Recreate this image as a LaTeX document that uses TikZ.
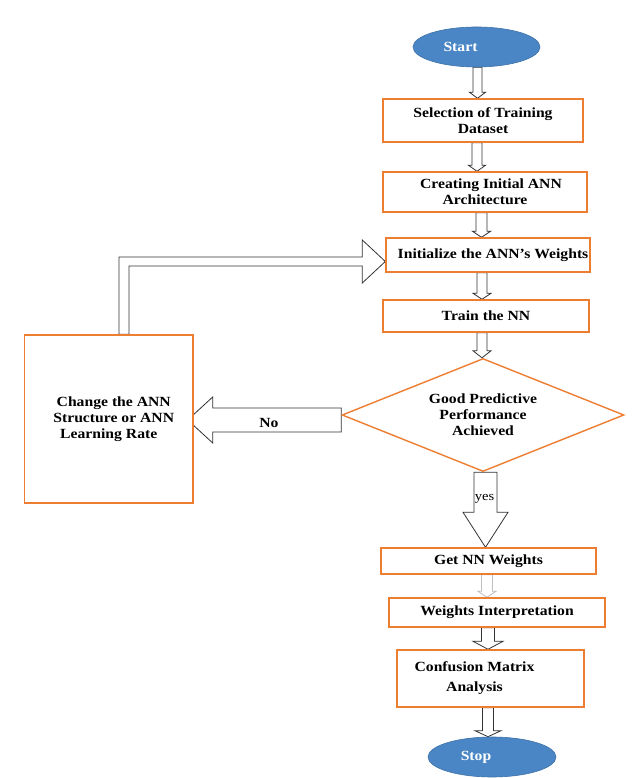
\documentclass[tikz,border=0pt]{standalone}
\usepackage{fontspec}
\setmainfont{Liberation Serif}[FakeStretch=1.12]
\usetikzlibrary{shapes.geometric,calc,backgrounds}
\definecolor{boxorange}{HTML}{ED7D31}
\definecolor{ellblue}{HTML}{4A86C5}
\newcommand\blockdown[7][]{%
  \draw[blockarrow,#1] let \p1=(#2), \p2=(#3) in
  (#4pt-#5pt,\y1) -- (#4pt-#5pt,\y2+#7pt) -- (#4pt-#6pt,\y2+#7pt) -- (#4pt,\y2)
  -- (#4pt+#6pt,\y2+#7pt) -- (#4pt+#5pt,\y2+#7pt) -- (#4pt+#5pt,\y1) -- cycle;}
\tikzset{
  box/.style={draw=boxorange, line width=1.4pt, fill=white, inner sep=0pt,
    align=center, font=\fontsize{14}{16}\selectfont\bfseries},
  term/.style={ellipse, fill=ellblue, draw=ellblue!85!black, line width=0.6pt,
    inner sep=0pt, text=white, font=\fontsize{14}{16}\selectfont\bfseries},
  dec/.style={diamond, aspect=2.5, draw=boxorange, line width=1.4pt, fill=white,
    inner sep=0pt, align=center, font=\fontsize{14}{16}\selectfont\bfseries},
  blockarrow/.style={draw=black!80, line width=0.8pt, fill=white, line join=miter},
  lightarrow/.style={draw=black!25},
  lbl/.style={inner sep=0pt, font=\fontsize{14}{16}\selectfont\bfseries},
}
\begin{document}
\begin{tikzpicture}[x=1pt,y=1pt]
\useasboundingbox (0,0) rectangle (640,778);
% nodes
\node[term, minimum width=127pt, minimum height=40pt] (start) at (476.5,731) {Start\hspace*{32pt}};
\node[box, minimum width=200pt, minimum height=43pt] (b1) at (483,657.5) {Selection of Training\\Dataset};
\node[box, minimum width=204pt, minimum height=40pt] (b2) at (485,586) {\hspace*{12pt}Creating Initial ANN\\Architecture};
\node[box, minimum width=204pt, minimum height=34pt] (b3) at (488,523) {\hspace*{10pt}Initialize the ANN’s Weights};
\node[box, minimum width=206pt, minimum height=32pt] (b4) at (486,462) {Train the NN};
\node[dec, minimum width=282pt, minimum height=113pt] (dia) at (483,363) {Good Predictive\\Performance\\Achieved};
\node[box, minimum width=168.5pt, minimum height=168pt] (lbox) at (108.75,359) {\hspace*{10pt}Change the ANN\\\hspace*{10pt}Structure or ANN\\Learning Rate};
\node[box, minimum width=215pt, minimum height=26pt] (get) at (488.5,217) {Get NN Weights};
\node[box, minimum width=216pt, minimum height=29pt] (wi) at (497,165.5) {Weights Interpretation};
\node[box, minimum width=187pt, minimum height=57pt] (cm) at (490.5,99.5) {\begin{tabular}{@{}c@{}}Confusion Matrix\\[4pt]Analysis\end{tabular}\hspace*{32pt}};
\node[term, minimum width=128pt, minimum height=40pt] (stop) at (492,21) {Stop\hspace*{32pt}};
% connectors
\begin{pgfonlayer}{background}
\blockdown{start.south}{b1.north}{477.5}{4.5}{8}{6}
\blockdown{b1.south}{b2.north}{477}{5}{8.5}{6}
\blockdown{b2.south}{b3.north}{481.5}{5.5}{9}{6}
\blockdown{b3.south}{b4.north}{482}{5}{9}{6}
\blockdown{b4.south}{dia.north}{482}{5}{9}{7}
\blockdown{dia.south}{get.north}{485.5}{11.5}{22.5}{35}
\blockdown[lightarrow]{get.south}{wi.north}{487}{5.5}{9}{6}
\blockdown{wi.south}{cm.north}{488}{6.5}{15}{8}
\blockdown{cm.south}{stop.north}{488}{5.5}{13}{6}
% No arrow
\draw[blockarrow] let \p1=(dia.west), \p2=(lbox.east) in
  (\x1,370pt) -- (\x2+19pt,370pt) -- (\x2+19pt,381pt) -- (\x2-6pt,358pt)
  -- (\x2+19pt,335pt) -- (\x2+19pt,346pt) -- (\x1,346pt) -- cycle;
% feedback arrow
\draw[blockarrow] let \p1=(lbox.north), \p2=(b3.west) in
  (119pt,\y1) -- (119pt,521pt) -- (\x2-23pt,521pt) -- (\x2-23pt,538pt)
  -- (\x2,516.5pt) -- (\x2-23pt,495pt) -- (\x2-23pt,512pt) -- (129pt,512pt)
  -- (129pt,\y1) -- cycle;
\end{pgfonlayer}
% labels
\node[lbl] (nolbl) at (269,355) {No};
\node[inner sep=0pt, font=\fontsize{13}{15}\selectfont] (yeslbl) at (484.5,279) {yes};
\end{tikzpicture}
\end{document}
